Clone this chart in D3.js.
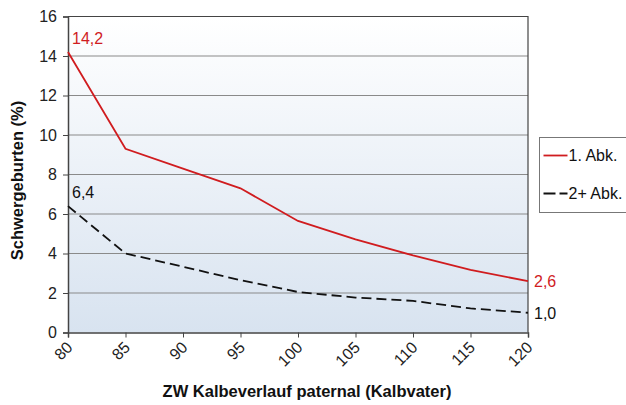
<!DOCTYPE html>
<html>
<head>
<meta charset="utf-8">
<script src="https://cdn.jsdelivr.net/npm/d3@7"></script>
<style>
  body { margin: 0; background: #fff; }
  text { font-family: "Liberation Sans", Arial, sans-serif; }
</style>
</head>
<body>
<svg id="chart" width="626" height="405"></svg>
<script>
// data
const zwValues = [80, 85, 90, 95, 100, 105, 110, 115, 120];
const firstCalving = [14.2, 9.3, 8.3, 7.3, 5.65, 4.72, 3.9, 3.17, 2.6];
const laterCalving = [6.4, 4.0, 3.33, 2.65, 2.05, 1.77, 1.6, 1.22, 1.0];
const yTicks = [0, 2, 4, 6, 8, 10, 12, 14, 16];

const series = [
    { name: "1. Abk.", values: firstCalving, color: "#d01c1f", dash: null,
      first: "14,2", last: "2,6" },
    { name: "2+ Abk.", values: laterCalving, color: "#111", dash: "10,5",
      first: "6,4", last: "1,0" }
];

const margin = { top: 16.5, left: 68, right: 98, bottom: 72.5 };
const width = 626, height = 405;

const svg = d3.select("#chart");

const x = d3.scaleLinear()
    .domain([80, 120])
    .range([margin.left, width - margin.right]);

const y = d3.scaleLinear()
    .domain([0, 16])
    .range([height - margin.bottom, margin.top]);

// background gradient of plot area
const grad = svg.append("defs").append("linearGradient")
    .attr("id", "bg")
    .attr("x1", 0).attr("y1", 0).attr("x2", 0).attr("y2", 1);
grad.append("stop").attr("offset", "0%").attr("stop-color", "#ffffff");
grad.append("stop").attr("offset", "100%").attr("stop-color", "#d8e3f0");

svg.append("rect")
    .attr("x", x(80)).attr("y", y(16))
    .attr("width", x(120) - x(80))
    .attr("height", y(0) - y(16))
    .attr("fill", "url(#bg)");

// gridlines
svg.append("g")
    .selectAll("line")
    .data(yTicks.filter(d => d > 0 && d < 16))
    .enter()
    .append("line")
        .attr("x1", x(80)).attr("x2", x(120))
        .attr("y1", d => y(d)).attr("y2", d => y(d))
        .attr("stroke", "#8a8a8a")
        .attr("stroke-width", 1.2);

// frame top/right
svg.append("path")
    .attr("d", `M${x(80)},${y(16)}H${x(120)}V${y(0)}`)
    .attr("fill", "none")
    .attr("stroke", "#444")
    .attr("stroke-width", 1.2);

// axes
const yAxis = svg.append("g")
    .attr("transform", `translate(${x(80)},0)`)
    .call(d3.axisLeft(y).tickValues(yTicks).tickSize(5).tickPadding(6).tickFormat(d3.format("d")));

const xAxis = svg.append("g")
    .attr("transform", `translate(0,${y(0)})`)
    .call(d3.axisBottom(x).tickValues(zwValues).tickSize(5).tickFormat(d3.format("d")));

[yAxis, xAxis].forEach(g => {
    g.select(".domain").attr("stroke", "#444").attr("stroke-width", 1.5);
    g.selectAll(".tick line").attr("stroke", "#444");
    g.selectAll("text")
        .attr("fill", "#222")
        .style("font-size", "16px")
        .style("font-family", "'Liberation Sans', Arial, sans-serif");
});

xAxis.selectAll("text")
    .attr("text-anchor", "end")
    .attr("dy", null)
    .attr("y", 0)
    .attr("transform", "translate(5,16) rotate(-45)");

// axis titles
svg.append("text")
    .attr("transform", `translate(23,${(y(0) + y(16)) / 2 + 6}) rotate(-90)`)
    .attr("text-anchor", "middle")
    .style("font-size", "16.5px")
    .style("font-weight", "bold")
    .attr("fill", "#111")
    .text("Schwergeburten (%)");

svg.append("text")
    .attr("x", 307)
    .attr("y", 397)
    .attr("text-anchor", "middle")
    .style("font-size", "16.5px")
    .style("font-weight", "bold")
    .attr("fill", "#111")
    .text("ZW Kalbeverlauf paternal (Kalbvater)");

// lines
const line = d3.line()
    .x((d, i) => x(zwValues[i]))
    .y(d => y(d));

series.forEach(s => {
    svg.append("path")
        .datum(s.values)
        .attr("d", line)
        .attr("fill", "none")
        .attr("stroke", s.color)
        .attr("stroke-width", 1.8)
        .attr("stroke-dasharray", s.dash);

    svg.append("text")
        .attr("x", x(80) + 4)
        .attr("y", y(s.values[0]) - 8)
        .attr("fill", s.color)
        .style("font-size", "16px")
        .text(s.first);

    svg.append("text")
        .attr("x", x(120) + 6)
        .attr("y", y(s.values[s.values.length - 1]) + 6)
        .attr("fill", s.color)
        .style("font-size", "16px")
        .text(s.last);
});

// legend
const legend = svg.append("g").attr("transform", "translate(539.5,137.5)");
legend.append("rect")
    .attr("width", 92).attr("height", 75)
    .attr("fill", "#fff")
    .attr("stroke", "#777");

series.forEach((s, i) => {
    const ly = 18 + i * 38;
    legend.append("line")
        .attr("x1", 4).attr("x2", 28)
        .attr("y1", ly).attr("y2", ly)
        .attr("stroke", s.color)
        .attr("stroke-width", 1.8)
        .attr("stroke-dasharray", s.dash ? "12,4" : null);
    legend.append("text")
        .attr("x", 29)
        .attr("y", ly + 5.5)
        .attr("fill", "#111")
        .style("font-size", "16px")
        .text(s.name);
});
</script>
</body>
</html>
